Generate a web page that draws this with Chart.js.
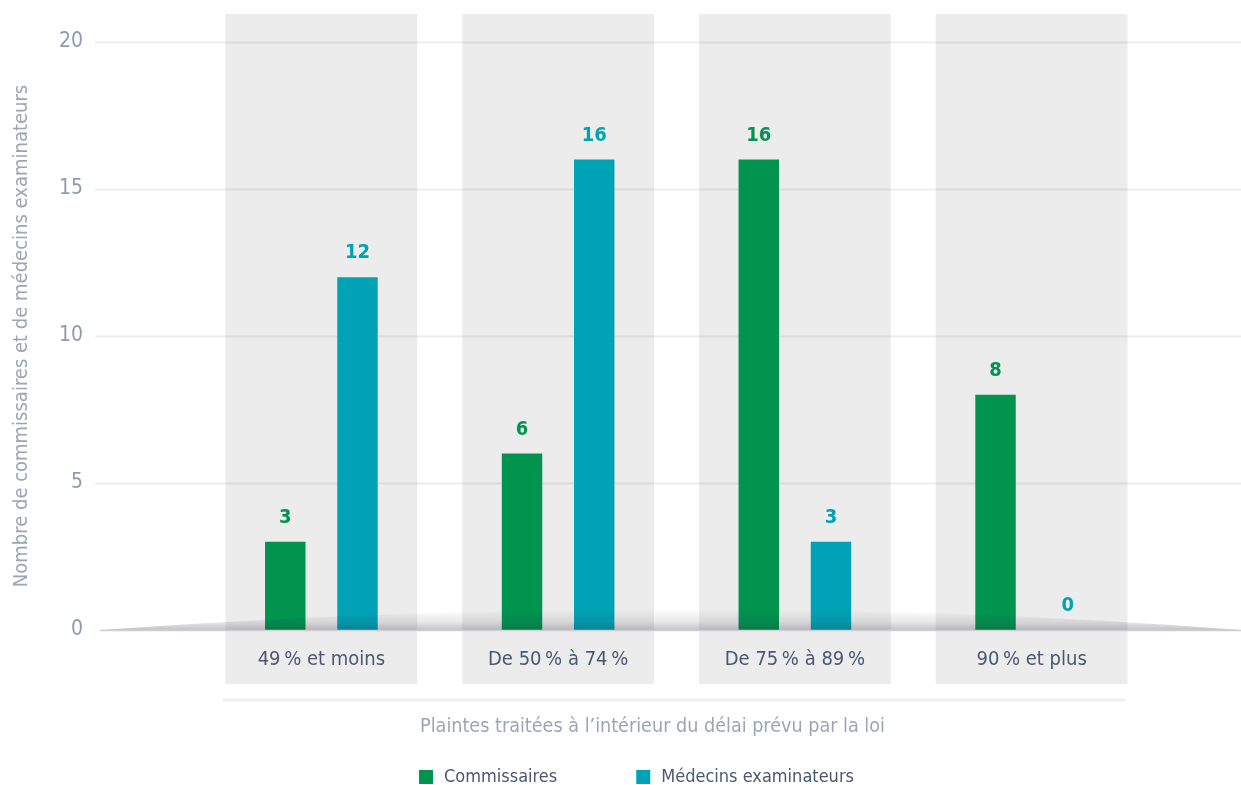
<!DOCTYPE html>
<html>
<head>
<meta charset="utf-8">
<script src="https://cdn.jsdelivr.net/npm/chart.js@4"></script>
<style>
  html, body { margin: 0; padding: 0; background: #ffffff; }
  #wrap { width: 1241px; height: 785px; }
</style>
</head>
<body>
<div id="wrap"><canvas id="chart" width="1241" height="785"></canvas></div>
<script>
/* ── Data ─────────────────────────────────────────────── */
const categories   = ["49\u2009% et moins", "De 50\u2009% à 74\u2009%", "De 75\u2009% à 89\u2009%", "90\u2009% et plus"];
const commissaires = [3, 6, 16, 8];
const medecins     = [12, 16, 3, 0];
const seriesNames  = ["Commissaires", "Médecins examinateurs"];
const yTicks       = [0, 5, 10, 15, 20];
const yTitle       = "Nombre de commissaires et de médecins examinateurs";
const xTitle       = "Plaintes traitées à l’intérieur du délai prévu par la loi";

/* ── Theme ────────────────────────────────────────────── */
const FONT   = "'DejaVu Sans Condensed', 'Liberation Sans Narrow', 'Roboto', sans-serif";
const GREEN  = "#00944f";
const TEAL   = "#00a3b5";
const BAND   = "#ececec";
const SLATE  = "#4a5870";
const MUTED  = "#8e9bb0";
const TITLE  = "#9aa6b6";

/* ── Decorations: bands, grid, base shadow, labels, legend ── */
const decor = {
  id: "decor",
  beforeDraw(chart) {
    const { ctx, scales: { x, y } } = chart;
    const step = x.width / categories.length;
    const bw   = step * 0.81;
    const top  = y.getPixelForValue(y.max) - 28;
    const bot  = y.getPixelForValue(0) + 54;
    ctx.save();
    ctx.fillStyle = BAND;
    categories.forEach((c, i) => {
      const cx = x.getPixelForValue(i);
      ctx.fillRect(cx - bw / 2, top, bw, bot - top);
    });
    // horizontal grid, wider than the plot
    ctx.strokeStyle = "rgba(0,0,0,0.07)";
    ctx.lineWidth = 2;
    yTicks.filter(v => v > 0).forEach(v => {
      const py = Math.round(y.getPixelForValue(v)) + 0.5;
      ctx.beginPath();
      ctx.moveTo(95, py);
      ctx.lineTo(chart.width, py);
      ctx.stroke();
    });
    ctx.restore();
  },
  afterDatasetsDraw(chart) {
    const { ctx, scales: { y } } = chart;
    const y0 = y.getPixelForValue(0);
    const l = 100, r = chart.width, h = 21;
    ctx.save();
    // lens-shaped shadow on the baseline
    const g = ctx.createLinearGradient(0, y0, 0, y0 - h);
    g.addColorStop(0, "rgba(40,40,55,0.28)");
    g.addColorStop(0.4, "rgba(40,40,55,0.10)");
    g.addColorStop(1, "rgba(40,40,55,0)");
    ctx.fillStyle = g;
    ctx.beginPath();
    ctx.moveTo(l, y0);
    ctx.quadraticCurveTo((l + r) / 2 + 20, y0 - 2 * h, r, y0);
    ctx.closePath();
    ctx.fill();
    ctx.strokeStyle = "#cfcfd3";
    ctx.lineWidth = 1.5;
    ctx.beginPath();
    ctx.moveTo(l, y0 + 0.5);
    ctx.lineTo(r, y0 + 0.5);
    ctx.stroke();

    // value labels
    ctx.font = "bold 20px " + FONT;
    ctx.textAlign = "center";
    ctx.textBaseline = "middle";
    chart.data.datasets.forEach((ds, di) => {
      chart.getDatasetMeta(di).data.forEach((bar, i) => {
        ctx.fillStyle = ds.backgroundColor;
        ctx.fillText(String(ds.data[i]), bar.x, bar.y - 24);
      });
    });
    ctx.restore();
  },
  afterDraw(chart) {
    const { ctx, chartArea, scales: { x } } = chart;
    const step = x.width / categories.length;
    const bw   = step * 0.81;
    const x1   = x.getPixelForValue(0) - bw / 2 - 3;
    const x2   = x.getPixelForValue(categories.length - 1) + bw / 2 - 2;
    const mid  = (chartArea.left + chartArea.right) / 2;
    ctx.save();
    // separator
    ctx.strokeStyle = "#efefef";
    ctx.lineWidth = 3;
    ctx.beginPath();
    ctx.moveTo(x1, 700);
    ctx.lineTo(x2, 700);
    ctx.stroke();
    // x title
    ctx.font = "19.6px " + FONT;
    ctx.fillStyle = TITLE;
    ctx.textAlign = "center";
    ctx.textBaseline = "middle";
    ctx.fillText(xTitle, mid - 24, 727);
    // legend
    ctx.font = "18px " + FONT;
    ctx.textAlign = "left";
    const colors = [GREEN, TEAL];
    const widths = seriesNames.map(n => ctx.measureText(n).width);
    const total  = widths.reduce((a, w) => a + 14 + 11 + w, 0) + 79;
    let lx = mid - 40 - total / 2;
    seriesNames.forEach((n, i) => {
      ctx.fillStyle = colors[i];
      ctx.fillRect(lx, 770, 14, 14);
      ctx.fillStyle = SLATE;
      ctx.fillText(n, lx + 25, 777);
      lx += 14 + 11 + widths[i] + 79;
    });
    ctx.restore();
  }
};

/* ── Chart ────────────────────────────────────────────── */
new Chart(document.getElementById("chart"), {
  type: "bar",
  data: {
    labels: categories,
    datasets: [
      { label: seriesNames[0], data: commissaires, backgroundColor: GREEN,
        categoryPercentage: 0.61, barPercentage: 0.56 },
      { label: seriesNames[1], data: medecins, backgroundColor: TEAL,
        categoryPercentage: 0.61, barPercentage: 0.56 },
    ],
  },
  options: {
    responsive: false,
    animation: false,
    layout: { padding: { top: 42, right: 91, left: 0, bottom: 0 } },
    plugins: { legend: { display: false }, tooltip: { enabled: false } },
    scales: {
      x: {
        grid:   { display: false },
        border: { display: false },
        ticks:  { color: SLATE, font: { family: FONT, size: 20 }, padding: 10 },
        afterFit: s => { s.height = 155; },
      },
      y: {
        min: 0, max: 20,
        grid:   { display: false },
        border: { display: false },
        ticks:  { stepSize: 5, color: MUTED, font: { family: FONT, size: 21 }, padding: 112 },
        title:  { display: true, text: yTitle, color: TITLE,
                  font: { family: FONT, size: 20 }, padding: { top: 10, bottom: 0 } },
        afterFit: s => { s.width = 203; s.paddingTop = 10; s.paddingBottom = 10; },
      },
    },
  },
  plugins: [decor],
});
</script>
</body>
</html>
